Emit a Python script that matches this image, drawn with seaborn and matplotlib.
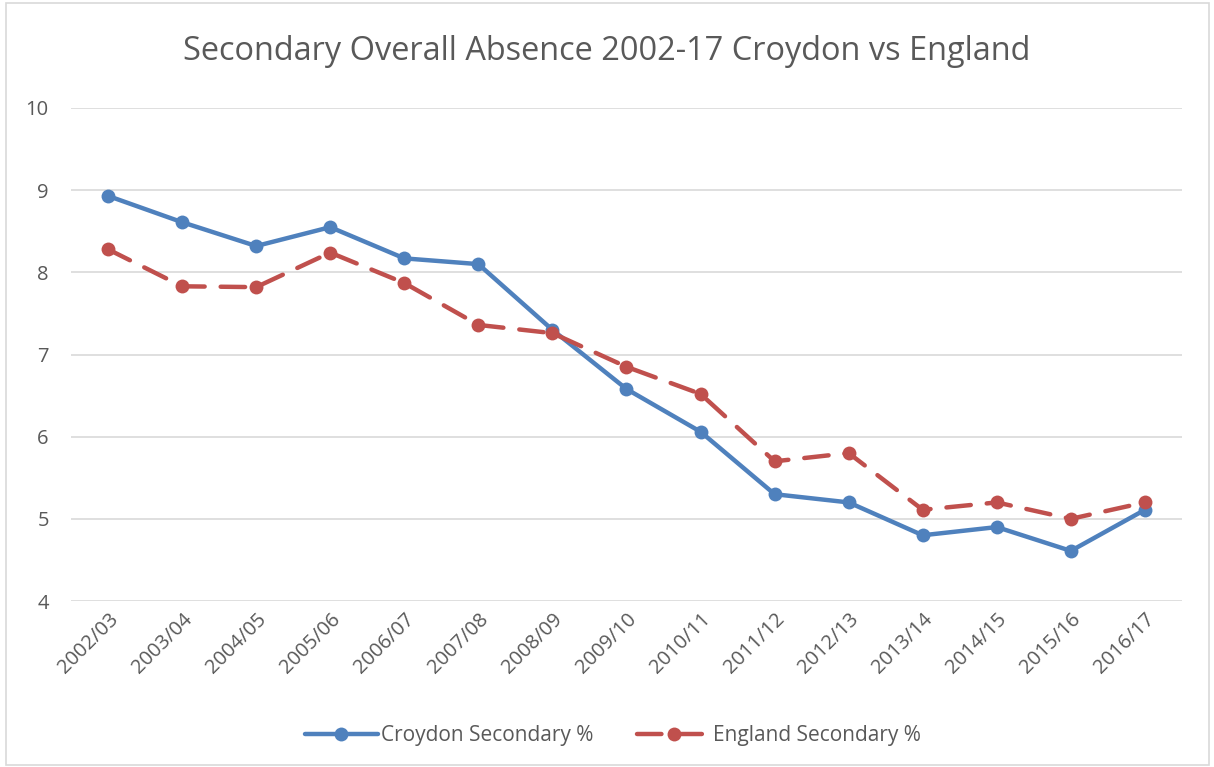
import matplotlib
matplotlib.use("Agg")
import matplotlib.pyplot as plt
import seaborn as sns
import pandas as pd
from matplotlib.patches import Rectangle

years = ["2002/03", "2003/04", "2004/05", "2005/06", "2006/07", "2007/08", "2008/09",
         "2009/10", "2010/11", "2011/12", "2012/13", "2013/14", "2014/15", "2015/16", "2016/17"]
croydon = [8.93, 8.61, 8.32, 8.55, 8.17, 8.10, 7.30, 6.58, 6.06, 5.30, 5.20, 4.80, 4.90, 4.61, 5.11]
england = [8.28, 7.83, 7.82, 8.24, 7.87, 7.36, 7.26, 6.85, 6.52, 5.70, 5.80, 5.11, 5.20, 5.00, 5.20]
yticks = [4, 5, 6, 7, 8, 9, 10]

sns.set_theme(style="white")
plt.rcParams["font.family"] = ["Open Sans", "DejaVu Sans"]

grey = "#595959"
blue = "#4F81BD"
red = "#C0504D"

df = pd.DataFrame({"year": years, "pos": range(len(years)),
                   "Croydon Secondary %": croydon, "England Secondary %": england})

fig = plt.figure(figsize=(12.14, 7.67), dpi=100)
ax = fig.add_axes([0.0585, 0.2164, 0.9151, 0.6428])

sns.lineplot(data=df, x="pos", y="Croydon Secondary %", ax=ax, color=blue, lw=3.2,
             marker="o", markersize=10, markeredgewidth=0, label="Croydon Secondary %",
             solid_capstyle="round")
sns.lineplot(data=df, x="pos", y="England Secondary %", ax=ax, color=red, lw=3.2,
             marker="o", markersize=10, markeredgewidth=0, label="England Secondary %",
             dashes=False)
ax.lines[1].set_dashes([5.5, 3.6])
ax.lines[1].set_dash_capstyle("round")

ax.set_xlim(-0.5, len(years) - 0.5)
ax.set_ylim(4, 10)
ax.set_yticks(yticks)
ax.set_yticklabels([str(v) for v in yticks], fontsize=14.5, color=grey)
ax.set_xticks(range(len(years)))
ax.set_xticklabels(years, rotation=45, ha="right", rotation_mode="anchor", fontsize=14.5, color=grey)
ax.tick_params(axis="x", length=0, pad=6)
ax.tick_params(axis="y", length=0, pad=16)
ax.set_xlabel("")
ax.set_ylabel("")
ax.yaxis.grid(True, color="#D9D9D9", lw=1.2)
ax.set_axisbelow(True)
for s in ax.spines.values():
    s.set_visible(False)

leg = ax.legend(loc="center", ncol=2, frameon=False, fontsize=15, handlelength=3.5,
                columnspacing=2.1, handletextpad=0.15, labelcolor=grey)
leg.set_bbox_to_anchor((0.505, 1 - 736 / 767), transform=fig.transFigure)

fig.text(0.5, 1 - 52 / 767, "Secondary Overall Absence 2002-17 Croydon vs England",
         ha="center", va="center", fontsize=23.4, color=grey)

fig.patches.append(Rectangle((6 / 1214, 2 / 767), 1203 / 1214, 762 / 767, transform=fig.transFigure,
                             fill=False, edgecolor="#D9D9D9", lw=1.2))

fig.savefig("out.png", dpi=100, facecolor="white")
